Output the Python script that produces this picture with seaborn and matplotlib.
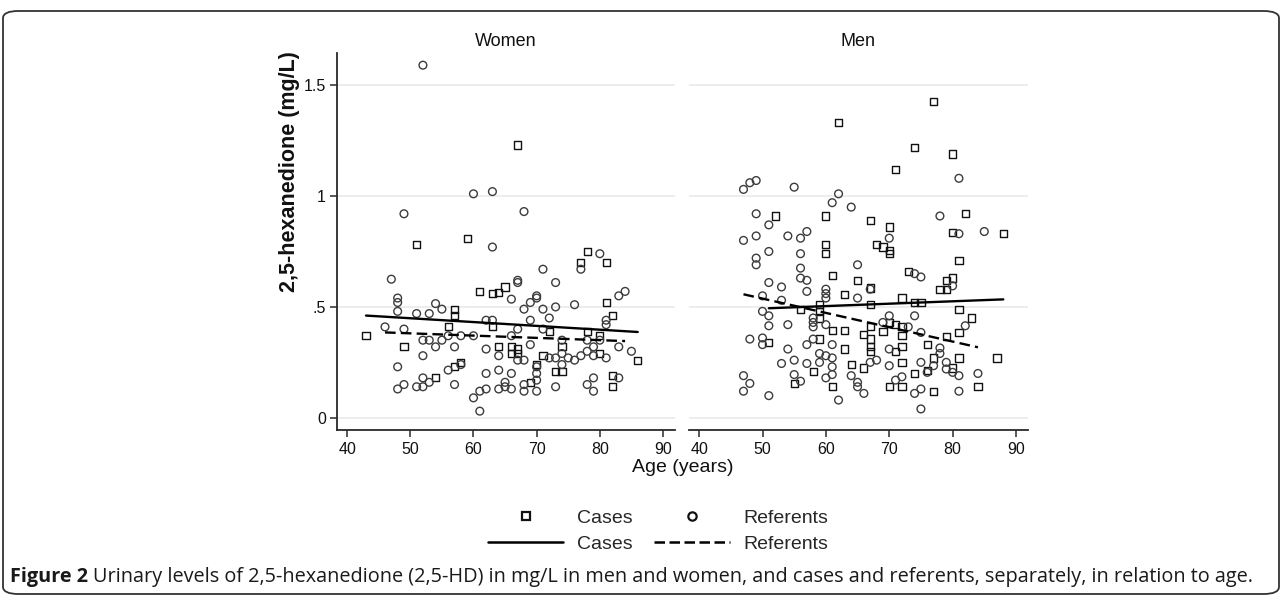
import numpy as np
import pandas as pd
import matplotlib
matplotlib.use("Agg")
import matplotlib.pyplot as plt
import seaborn as sns
from matplotlib.lines import Line2D
from matplotlib.patches import FancyBboxPatch

# ---------------- data ----------------
panels = ["Women", "Men"]
groups = ["Cases", "Referents"]

women_cases_age = [43, 51, 49, 56, 57, 57, 54, 57, 58, 61, 63, 64, 65, 63, 64, 66, 66, 67, 67, 69,
                   70, 71, 72, 73, 74, 74, 77, 78, 78, 80, 80, 81, 81, 82, 82, 82, 86, 59, 67]
women_cases_hd = [0.37, 0.78, 0.32, 0.41, 0.49, 0.46, 0.18, 0.23, 0.25, 0.57, 0.56, 0.565, 0.59, 0.41,
                  0.32, 0.32, 0.29, 0.31, 0.29, 0.16, 0.24, 0.28, 0.39, 0.21, 0.21, 0.32, 0.70, 0.75,
                  0.39, 0.37, 0.29, 0.70, 0.52, 0.46, 0.19, 0.14, 0.26, 0.81, 1.23]

women_ref_age = [52, 49, 60, 63, 68, 63, 80,
                 47, 48, 48, 48, 46, 49, 51, 53, 54, 55,
                 52, 53, 54, 55, 56, 57, 58, 52, 48, 48, 49, 51, 52, 52, 53, 56, 57, 58,
                 60, 60, 61, 61, 62, 62, 62, 62, 63, 64, 64, 64, 65, 65,
                 66, 66, 66, 66, 67, 67, 67, 67, 68, 68, 68, 68,
                 69, 69, 69, 70, 70, 70, 70, 70, 70,
                 71, 71, 71, 72, 72, 73, 73, 73, 73,
                 74, 74, 74, 75, 76, 76, 77, 77,
                 78, 78, 78, 79, 79, 79, 79, 80,
                 81, 81, 81, 83, 83, 83, 84, 85]
women_ref_hd = [1.59, 0.92, 1.01, 1.02, 0.93, 0.77, 0.74,
                0.625, 0.54, 0.52, 0.48, 0.41, 0.40, 0.47, 0.47, 0.515, 0.49,
                0.35, 0.35, 0.32, 0.35, 0.37, 0.32, 0.37, 0.28, 0.23, 0.13, 0.15, 0.14, 0.14, 0.18, 0.16, 0.215, 0.15, 0.24,
                0.37, 0.09, 0.12, 0.03, 0.13, 0.20, 0.31, 0.44, 0.44, 0.28, 0.215, 0.13, 0.16, 0.14,
                0.535, 0.37, 0.20, 0.13, 0.61, 0.62, 0.40, 0.26, 0.49, 0.26, 0.15, 0.12,
                0.52, 0.44, 0.33, 0.55, 0.54, 0.23, 0.20, 0.17, 0.12,
                0.67, 0.49, 0.40, 0.45, 0.27, 0.61, 0.50, 0.27, 0.14,
                0.35, 0.29, 0.24, 0.27, 0.51, 0.26, 0.67, 0.28,
                0.35, 0.30, 0.15, 0.28, 0.18, 0.12, 0.32, 0.35,
                0.44, 0.42, 0.27, 0.55, 0.32, 0.18, 0.57, 0.30]

men_cases_age = [77, 62, 74, 80, 71, 52, 60, 67, 70, 82, 80, 88,
                 60, 60, 68, 69, 70, 70, 81,
                 61, 65, 63, 59, 59, 56, 59, 61, 63, 66, 59, 63, 51, 58, 55, 61, 64, 66,
                 73, 79, 80, 78, 79, 67, 72, 67, 74, 75, 81, 83,
                 67, 70, 71, 72, 69, 67, 67, 67, 72, 72, 71, 81, 79, 76, 81, 87, 77, 72, 76, 74, 80,
                 70, 72, 77, 84]
men_cases_hd = [1.425, 1.33, 1.22, 1.19, 1.12, 0.91, 0.91, 0.89, 0.86, 0.92, 0.835, 0.83,
                0.78, 0.74, 0.78, 0.77, 0.755, 0.74, 0.71,
                0.64, 0.62, 0.555, 0.51, 0.48, 0.49, 0.45, 0.395, 0.395, 0.375, 0.355, 0.31, 0.34, 0.21, 0.155, 0.14, 0.24, 0.225,
                0.66, 0.62, 0.63, 0.58, 0.58, 0.585, 0.54, 0.51, 0.52, 0.52, 0.49, 0.45,
                0.41, 0.43, 0.42, 0.41, 0.39, 0.355, 0.32, 0.30, 0.37, 0.32, 0.30, 0.385, 0.365, 0.33, 0.27, 0.27, 0.27, 0.25, 0.215, 0.20, 0.225,
                0.14, 0.14, 0.12, 0.14]

men_ref_age = [47, 48, 49, 55, 62, 61, 64, 81, 49, 51, 47, 49, 54, 56, 57, 51, 56, 49, 70, 78, 81, 85,
               49, 56, 56, 57, 51, 53, 57, 65, 60, 60, 60, 65, 50, 53, 50, 51, 51, 54, 58, 58, 58, 60,
               48, 50, 50, 54, 57, 58, 61, 59, 60, 61, 55, 53, 57, 59, 61, 61, 60, 55, 56, 64, 65, 47, 48, 47, 51, 62,
               67, 74, 75, 80, 74, 70, 69, 82, 73, 75, 70, 78, 78, 68, 67, 70, 75, 79, 77, 79, 80, 81, 84, 76,
               74, 75, 71, 72, 81, 75, 65, 66]
men_ref_hd = [1.03, 1.06, 1.07, 1.04, 1.01, 0.97, 0.95, 1.08, 0.92, 0.87, 0.80, 0.82, 0.82, 0.81, 0.84, 0.75, 0.74, 0.72, 0.81, 0.91, 0.83, 0.84,
              0.69, 0.675, 0.63, 0.62, 0.61, 0.59, 0.57, 0.69, 0.58, 0.56, 0.54, 0.54, 0.55, 0.53, 0.48, 0.46, 0.415, 0.42, 0.45, 0.43, 0.41, 0.42,
              0.355, 0.36, 0.33, 0.31, 0.33, 0.355, 0.33, 0.29, 0.28, 0.27, 0.26, 0.245, 0.245, 0.25, 0.23, 0.195, 0.18, 0.195, 0.165, 0.19, 0.16, 0.19, 0.155, 0.12, 0.10, 0.08,
              0.58, 0.65, 0.635, 0.595, 0.46, 0.46, 0.43, 0.415, 0.41, 0.385, 0.31, 0.315, 0.29, 0.26, 0.25, 0.235, 0.25, 0.25, 0.235, 0.22, 0.205, 0.19, 0.20, 0.205,
              0.11, 0.13, 0.17, 0.185, 0.12, 0.04, 0.14, 0.11]

# fitted lines (end points)
women_fit_cases_age = [43, 86]
women_fit_cases_hd = [0.461, 0.387]
women_fit_ref_age = [46, 84]
women_fit_ref_hd = [0.385, 0.346]
men_fit_cases_age = [51, 88]
men_fit_cases_hd = [0.494, 0.534]
men_fit_ref_age = [47, 84]
men_fit_ref_hd = [0.557, 0.318]

x_ticks = [40, 50, 60, 70, 80, 90]
y_ticks = [0, 0.5, 1, 1.5]
y_tick_labels = ["0", ".5", "1", "1.5"]

caption_bold = "Figure 2"
caption_text = ("Urinary levels of 2,5-hexanedione (2,5-HD) in mg/L in men and women, "
                "and cases and referents, separately, in relation to age.")

# ---------------- tables ----------------
def mk(age, hd, sex, grp):
    return pd.DataFrame({"age": age, "hd": hd, "sex": sex, "group": grp})

points = pd.concat([
    mk(women_cases_age, women_cases_hd, "Women", "Cases"),
    mk(women_ref_age, women_ref_hd, "Women", "Referents"),
    mk(men_cases_age, men_cases_hd, "Men", "Cases"),
    mk(men_ref_age, men_ref_hd, "Men", "Referents"),
], ignore_index=True)

fits = pd.concat([
    mk(women_fit_cases_age, women_fit_cases_hd, "Women", "Cases"),
    mk(women_fit_ref_age, women_fit_ref_hd, "Women", "Referents"),
    mk(men_fit_cases_age, men_fit_cases_hd, "Men", "Cases"),
    mk(men_fit_ref_age, men_fit_ref_hd, "Men", "Referents"),
], ignore_index=True)

# ---------------- style ----------------
sns.set_theme(style="white")
plt.rcParams["font.family"] = ["Liberation Sans", "DejaVu Sans"]

W, H = 1282, 596
fig = plt.figure(figsize=(W / 100, H / 100), dpi=100)
fig.patch.set_facecolor("white")


def rect(l, t, r, b):
    return [l / W, 1 - b / H, (r - l) / W, (b - t) / H]


ax_w = fig.add_axes(rect(337, 53, 675, 430))
ax_m = fig.add_axes(rect(689, 53, 1028, 430))
axes = {"Women": ax_w, "Men": ax_m}

marker_style = {"Cases": ("s", "#111111", 27), "Referents": ("o", "#3c3c3c", 31)}
line_style = {"Cases": "-", "Referents": (0, (4.5, 2.2))}
axis_col = "#2a2a2a"

for sex, ax in axes.items():
    sub = points[points["sex"] == sex]
    for grp in groups:
        d = sub[sub["group"] == grp]
        m, ec, s = marker_style[grp]
        sns.scatterplot(data=d, x="age", y="hd", marker=m, s=s, facecolor="none",
                        edgecolor=ec, linewidth=1.0, ax=ax, zorder=3)
    fsub = fits[fits["sex"] == sex]
    for grp in groups:
        d = fsub[fsub["group"] == grp]
        sns.lineplot(data=d, x="age", y="hd", color="black", linewidth=1.7,
                     linestyle=line_style[grp], ax=ax, zorder=4)

    ax.set_xlim(38.4, 91.9)
    ax.set_ylim(-0.055, 1.645)
    ax.set_xticks(x_ticks)
    ax.set_xticklabels([str(v) for v in x_ticks])
    ax.set_yticks(y_ticks)
    ax.set_yticklabels(y_tick_labels)
    ax.set_axisbelow(True)
    ax.yaxis.grid(True, color="#ececec", linewidth=1.3)
    ax.xaxis.grid(False)
    ax.set_xlabel("")
    ax.set_ylabel("")
    ax.set_title(sex, fontsize=13, pad=5, color="#111111")
    for sp in ["top", "right"]:
        ax.spines[sp].set_visible(False)
    ax.spines["bottom"].set_color(axis_col)
    ax.spines["bottom"].set_linewidth(1.3)
    ax.tick_params(axis="x", direction="out", length=5, width=1.1, color=axis_col,
                   labelsize=11.5, pad=4, labelcolor="#111111", bottom=True)
    ax.set_facecolor("white")

ax_w.spines["left"].set_color(axis_col)
ax_w.spines["left"].set_linewidth(1.3)
ax_w.tick_params(axis="y", direction="out", length=5, width=1.1, color=axis_col,
                 labelsize=11.5, pad=3, labelcolor="#111111", left=True)
ax_m.spines["left"].set_visible(False)
ax_m.tick_params(axis="y", left=False, labelleft=False)

# axis titles
fig.text(289 / W, 1 - 172 / H, "2,5-hexanedione (mg/L)", rotation=90, ha="center",
         va="center", fontsize=15.5, fontweight="bold", color="#111111")
fig.text(683 / W, 1 - 467 / H, "Age (years)", ha="center", va="center", fontsize=14,
         color="#111111")

# legend
h_sq = Line2D([], [], marker="s", ls="none", mfc="none", mec="#111111", mew=1.6, ms=6)
h_ci = Line2D([], [], marker="o", ls="none", mfc="none", mec="#111111", mew=1.6, ms=6)
h_so = Line2D([], [], color="black", lw=1.8, ls="-")
h_da = Line2D([], [], color="black", lw=1.8, ls=(0, (4.2, 1.8)))
leg = fig.legend(handles=[h_sq, h_so, h_ci, h_da],
                 labels=["Cases", "Cases", "Referents", "Referents"],
                 ncol=2, loc="center", bbox_to_anchor=(658 / W, 1 - 531 / H),
                 frameon=False, fontsize=14, handlelength=3.9, handletextpad=0.7,
                 columnspacing=1.1, labelspacing=0.42, borderpad=0)

# caption
cap_font = ["Open Sans", "DejaVu Sans"]
t1 = fig.text(10 / W, 1 - 577 / H, caption_bold, ha="left", va="center", fontsize=14.3,
              fontweight="bold", family=cap_font, color="#1a1a1a")
fig.canvas.draw()
bb = t1.get_window_extent(renderer=fig.canvas.get_renderer())
fig.text((bb.x1 + 5) / W, 1 - 577 / H, caption_text, ha="left", va="center",
         fontsize=14.3, family=cap_font, color="#1a1a1a")

# frame around the figure
frame = FancyBboxPatch((3 / W, 2 / H), 1276 / W, (H - 13) / H,
                       boxstyle="round,pad=0,rounding_size=0.012",
                       transform=fig.transFigure, fill=False, edgecolor="#333333",
                       linewidth=1.3, zorder=10)
fig.patches.append(frame)

fig.savefig("out.png", dpi=100, facecolor="white")
